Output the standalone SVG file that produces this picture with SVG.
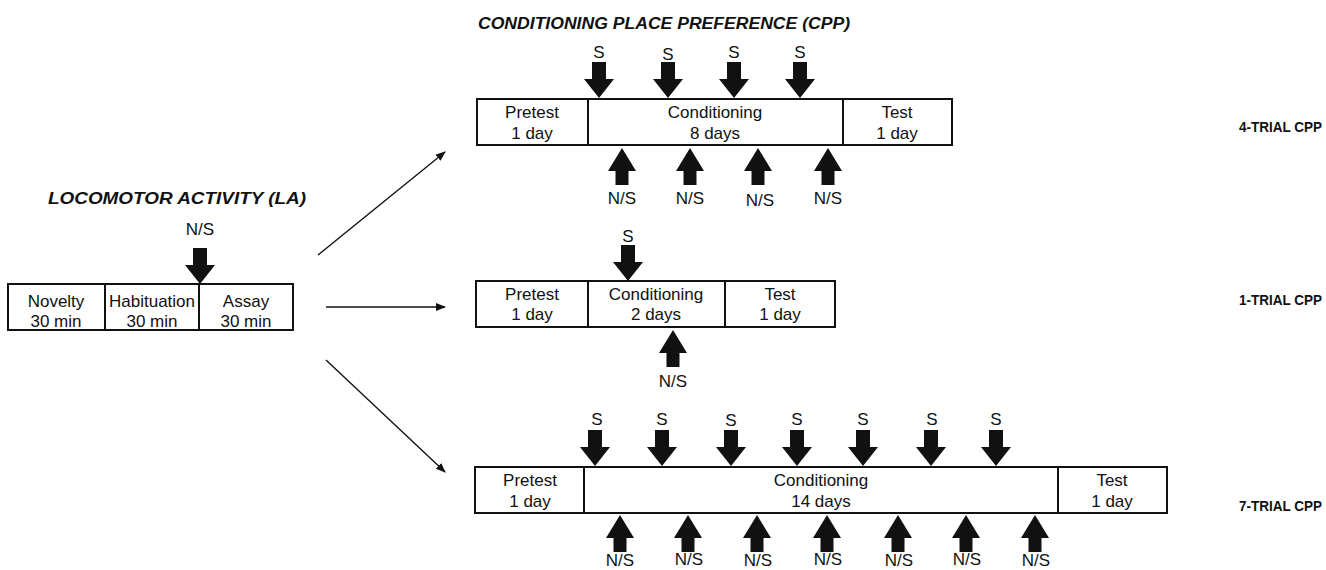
<svg xmlns="http://www.w3.org/2000/svg" width="1326" height="570" viewBox="0 0 1326 570">
<style>
.box{fill:#fff;stroke:#111;stroke-width:2}
.div{stroke:#111;stroke-width:2}
.t{font-family:"Liberation Sans",Arial,sans-serif;font-size:17px;fill:#111;text-anchor:middle}
.lbl{font-family:"Liberation Sans",Arial,sans-serif;font-size:17px;fill:#111;text-anchor:middle}
.title{font-family:"Liberation Sans",Arial,sans-serif;font-size:16px;font-weight:bold;font-style:italic;fill:#111}
.trial{font-family:"Liberation Sans",Arial,sans-serif;font-size:14.5px;font-weight:bold;fill:#111}
.ar{fill:#111}
.conn{stroke:#111;stroke-width:1.4;fill:none}
</style>
<defs>
<path id="dn" d="M-7,-36 H7 V-19 H15 L0,0 L-15,-19 H-7 Z"/>
<path id="up" d="M0,0 L14,23 H6.5 V37 H-6.5 V23 H-14 Z"/>
<marker id="ah" markerWidth="10" markerHeight="8" refX="9" refY="4" orient="auto" markerUnits="userSpaceOnUse">
<path d="M0,0 L10,4 L0,8 Z" fill="#111"/>
</marker>
</defs>

<text class="title" x="48" y="204" textLength="258" lengthAdjust="spacingAndGlyphs">LOCOMOTOR ACTIVITY (LA)</text>
<text class="title" x="478" y="29" textLength="372" lengthAdjust="spacingAndGlyphs">CONDITIONING PLACE PREFERENCE (CPP)</text>

<g id="la">
<rect class="box" x="8" y="284" width="285" height="46"/>
<line class="div" x1="105" y1="284" x2="105" y2="330"/>
<line class="div" x1="199" y1="284" x2="199" y2="330"/>
<text class="t" x="56" y="307">Novelty</text>
<text class="t" x="56" y="327">30 min</text>
<text class="t" x="152" y="307">Habituation</text>
<text class="t" x="152" y="327">30 min</text>
<text class="t" x="246" y="307">Assay</text>
<text class="t" x="246" y="327">30 min</text>
<use href="#dn" class="ar" transform="translate(200,284)"/>
<text class="lbl" x="200" y="235">N/S</text>
</g>

<g id="cpp4">
<rect class="box" x="477" y="99" width="475" height="46"/>
<line class="div" x1="588" y1="99" x2="588" y2="145"/>
<line class="div" x1="843" y1="99" x2="843" y2="145"/>
<text class="t" x="532" y="118">Pretest</text>
<text class="t" x="532" y="139">1 day</text>
<text class="t" x="715" y="118">Conditioning</text>
<text class="t" x="715" y="139">8 days</text>
<text class="t" x="897" y="118">Test</text>
<text class="t" x="897" y="139">1 day</text>
<use href="#dn" class="ar" transform="translate(599,98)"/>
<use href="#dn" class="ar" transform="translate(668,98)"/>
<use href="#dn" class="ar" transform="translate(734,98)"/>
<use href="#dn" class="ar" transform="translate(800,98)"/>
<text class="lbl" x="599" y="58">S</text>
<text class="lbl" x="668" y="60">S</text>
<text class="lbl" x="734" y="58">S</text>
<text class="lbl" x="800" y="58">S</text>
<use href="#up" class="ar" transform="translate(622,148)"/>
<use href="#up" class="ar" transform="translate(690,148)"/>
<use href="#up" class="ar" transform="translate(758,148)"/>
<use href="#up" class="ar" transform="translate(828,148)"/>
<text class="lbl" x="622" y="204">N/S</text>
<text class="lbl" x="690" y="204">N/S</text>
<text class="lbl" x="760" y="206">N/S</text>
<text class="lbl" x="828" y="204">N/S</text>
<text class="trial" x="1239" y="132" textLength="83" lengthAdjust="spacingAndGlyphs">4-TRIAL CPP</text>
</g>

<g id="cpp1">
<rect class="box" x="476" y="281" width="359" height="46"/>
<line class="div" x1="588" y1="281" x2="588" y2="327"/>
<line class="div" x1="725" y1="281" x2="725" y2="327"/>
<text class="t" x="532" y="300">Pretest</text>
<text class="t" x="532" y="320">1 day</text>
<text class="t" x="656" y="300">Conditioning</text>
<text class="t" x="656" y="320">2 days</text>
<text class="t" x="780" y="300">Test</text>
<text class="t" x="780" y="320">1 day</text>
<use href="#dn" class="ar" transform="translate(628,281)"/>
<text class="lbl" x="628" y="242">S</text>
<use href="#up" class="ar" transform="translate(673,330)"/>
<text class="lbl" x="673" y="387">N/S</text>
<text class="trial" x="1239" y="305" textLength="83" lengthAdjust="spacingAndGlyphs">1-TRIAL CPP</text>
</g>

<g id="cpp7">
<rect class="box" x="475" y="467" width="692" height="46"/>
<line class="div" x1="584" y1="467" x2="584" y2="513"/>
<line class="div" x1="1058" y1="467" x2="1058" y2="513"/>
<text class="t" x="530" y="486">Pretest</text>
<text class="t" x="530" y="507">1 day</text>
<text class="t" x="821" y="486">Conditioning</text>
<text class="t" x="821" y="507">14 days</text>
<text class="t" x="1112" y="486">Test</text>
<text class="t" x="1112" y="507">1 day</text>
<use href="#dn" class="ar" transform="translate(595,466)"/>
<use href="#dn" class="ar" transform="translate(662,466)"/>
<use href="#dn" class="ar" transform="translate(731,466)"/>
<use href="#dn" class="ar" transform="translate(797,466)"/>
<use href="#dn" class="ar" transform="translate(863,466)"/>
<use href="#dn" class="ar" transform="translate(931,466)"/>
<use href="#dn" class="ar" transform="translate(996,466)"/>
<text class="lbl" x="597" y="425">S</text>
<text class="lbl" x="662" y="425">S</text>
<text class="lbl" x="731" y="426">S</text>
<text class="lbl" x="797" y="425">S</text>
<text class="lbl" x="863" y="425">S</text>
<text class="lbl" x="932" y="425">S</text>
<text class="lbl" x="996" y="425">S</text>
<use href="#up" class="ar" transform="translate(620,515)"/>
<use href="#up" class="ar" transform="translate(688,515)"/>
<use href="#up" class="ar" transform="translate(757,515)"/>
<use href="#up" class="ar" transform="translate(827,515)"/>
<use href="#up" class="ar" transform="translate(898,515)"/>
<use href="#up" class="ar" transform="translate(966,515)"/>
<use href="#up" class="ar" transform="translate(1035,515)"/>
<text class="lbl" x="620" y="566">N/S</text>
<text class="lbl" x="689" y="565">N/S</text>
<text class="lbl" x="758" y="566">N/S</text>
<text class="lbl" x="828" y="565">N/S</text>
<text class="lbl" x="899" y="566">N/S</text>
<text class="lbl" x="967" y="565">N/S</text>
<text class="lbl" x="1036" y="566">N/S</text>
<text class="trial" x="1239" y="511" textLength="83" lengthAdjust="spacingAndGlyphs">7-TRIAL CPP</text>
</g>

<g id="connectors">
<line class="conn" x1="318" y1="255" x2="445" y2="152" marker-end="url(#ah)"/>
<line class="conn" x1="326" y1="307" x2="445" y2="307" marker-end="url(#ah)"/>
<line class="conn" x1="326" y1="360" x2="445" y2="472" marker-end="url(#ah)"/>
</g>
</svg>
